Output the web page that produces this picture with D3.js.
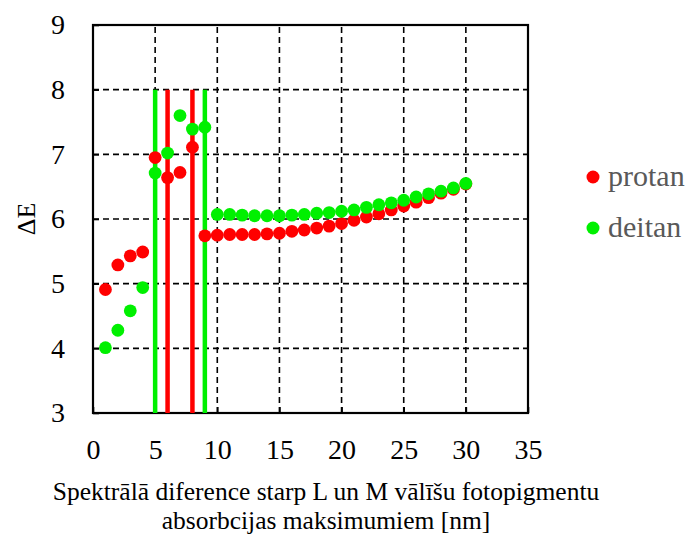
<!DOCTYPE html>
<html>
<head>
<meta charset="utf-8">
<script src="https://cdn.jsdelivr.net/npm/d3@7"></script>
<style>
  body { margin: 0; background: #fff; }
  svg { display: block; }
  text { font-family: "Liberation Serif", "Times New Roman", serif; }
</style>
</head>
<body>
<div id="chart"></div>
<script>
// values
const xValues = d3.range(1, 31);
const protan = [4.91, 5.29, 5.43, 5.49, 6.95, 6.64, 6.72, 7.11, 5.74, 5.75,
                5.76, 5.76, 5.76, 5.77, 5.78, 5.81, 5.83, 5.86, 5.89, 5.93,
                5.98, 6.03, 6.08, 6.14, 6.20, 6.26, 6.33, 6.40, 6.46, 6.54];
const deitan = [4.01, 4.28, 4.58, 4.94, 6.71, 7.02, 7.60, 7.39, 7.42, 6.07,
                6.07, 6.06, 6.05, 6.05, 6.05, 6.06, 6.07, 6.09, 6.10, 6.12,
                6.14, 6.18, 6.22, 6.25, 6.29, 6.34, 6.39, 6.43, 6.48, 6.55];
// vertical marker lines
const markerLines = [
  { x: 5, y0: 3, y1: 8, series: 'deitan' },
  { x: 6, y0: 3, y1: 8, series: 'protan' },
  { x: 8, y0: 3, y1: 8, series: 'protan' },
  { x: 9, y0: 3, y1: 8, series: 'deitan' }
];
const xTicks = [0, 5, 10, 15, 20, 25, 30, 35];
const yTicks = [3, 4, 5, 6, 7, 8, 9];
const seriesNames = ['protan', 'deitan'];
const xTitle = ['Spektrālā diference starp L un M vālīšu fotopigmentu',
                'absorbcijas maksimumiem [nm]'];
const yTitle = 'ΔE';

const colors = { protan: '#ff0000', deitan: '#00f000' };
const W = 691, H = 535;
const m = { left: 93, top: 25, right: 163, bottom: 122 };

const svg = d3.select('#chart').append('svg')
  .attr('width', W).attr('height', H);

const x = d3.scaleLinear().domain([0, 35]).range([m.left, W - m.right]);
const y = d3.scaleLinear().domain([3, 9]).range([H - m.bottom, m.top]);

// grid
svg.append('g').selectAll('line')
  .data(yTicks.slice(1, -1))
  .join('line')
  .attr('x1', x(0)).attr('x2', x(35))
  .attr('y1', d => y(d)).attr('y2', d => y(d))
  .attr('stroke', '#000').attr('stroke-width', 1.6)
  .attr('stroke-dasharray', '6,4');
svg.append('g').selectAll('line')
  .data(xTicks.slice(1, -1))
  .join('line')
  .attr('x1', d => x(d)).attr('x2', d => x(d))
  .attr('y1', y(3)).attr('y2', y(9))
  .attr('stroke', '#000').attr('stroke-width', 1.6)
  .attr('stroke-dasharray', '6,4');

// axes with inner ticks
const xAxis = svg.append('g')
  .attr('transform', `translate(0,${y(3)})`)
  .call(d3.axisBottom(x).tickValues(xTicks).tickFormat(d3.format('d'))
    .tickSizeInner(-6).tickSizeOuter(0).tickPadding(26));
const yAxis = svg.append('g')
  .attr('transform', `translate(${x(0)},0)`)
  .call(d3.axisLeft(y).tickValues(yTicks).tickFormat(d3.format('d'))
    .tickSizeInner(-6).tickSizeOuter(0).tickPadding(28));
[xAxis, yAxis].forEach(g => {
  g.select('.domain').remove();
  g.selectAll('line').attr('stroke', '#000').attr('stroke-width', 1.6);
  g.attr('font-family', null);
  g.selectAll('text').attr('font-size', 28).attr('fill', '#000');
});
xAxis.selectAll('text').attr('dy', '0.71em');

// frame
svg.append('rect')
  .attr('x', x(0)).attr('y', y(9))
  .attr('width', x(35) - x(0)).attr('height', y(3) - y(9))
  .attr('fill', 'none').attr('stroke', '#000').attr('stroke-width', 2.2);

// vertical marker lines
svg.append('g').selectAll('line')
  .data(markerLines)
  .join('line')
  .attr('x1', d => x(d.x)).attr('x2', d => x(d.x))
  .attr('y1', d => y(d.y0)).attr('y2', d => y(d.y1))
  .attr('stroke', d => colors[d.series]).attr('stroke-width', 4.5);

// points
const seriesData = { protan, deitan };
seriesNames.forEach(name => {
  svg.append('g').selectAll('circle')
    .data(seriesData[name])
    .join('circle')
    .attr('cx', (d, i) => x(xValues[i]))
    .attr('cy', d => y(d))
    .attr('r', 6.4)
    .attr('fill', colors[name]);
});

// axis titles
svg.append('text')
  .attr('transform', `translate(35,${(y(3) + y(9)) / 2}) rotate(-90)`)
  .attr('text-anchor', 'middle')
  .attr('font-size', 26)
  .text(yTitle);
svg.append('g').selectAll('text')
  .data(xTitle)
  .join('text')
  .attr('x', 326)
  .attr('y', (d, i) => 500 + i * 29)
  .attr('text-anchor', 'middle')
  .attr('font-size', 25.5)
  .text(d => d);

// legend
const legend = svg.append('g').selectAll('g')
  .data(seriesNames)
  .join('g')
  .attr('transform', (d, i) => `translate(593,${177 + i * 51})`);
legend.append('circle')
  .attr('r', 6.5)
  .attr('fill', d => colors[d]);
legend.append('text')
  .attr('x', 15).attr('y', 9)
  .attr('font-size', 30)
  .attr('fill', '#595959')
  .text(d => d);
</script>
</body>
</html>
